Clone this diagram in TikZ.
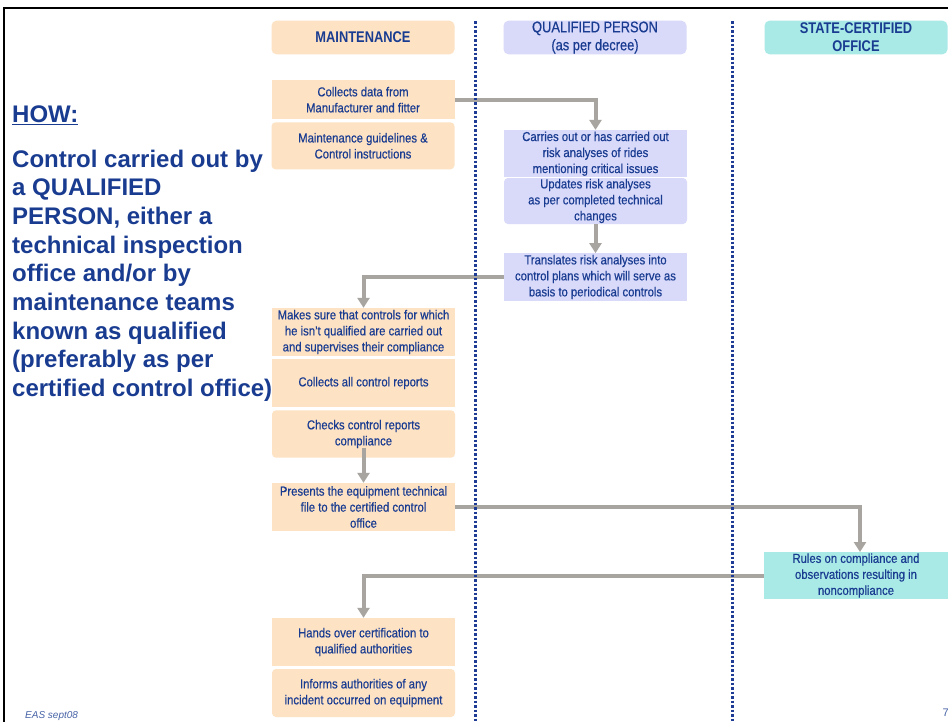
\documentclass[tikz,border=0pt]{standalone}
\usepackage{fontspec}
\setmainfont{Liberation Sans}
\newfontfamily\bxfont[FakeStretch=0.87,FakeBold=0.5]{Liberation Sans}
\newfontfamily\hdfont[FakeStretch=0.83]{Liberation Sans}
\newfontfamily\hqfont[FakeStretch=0.83,FakeBold=0.5]{Liberation Sans}
\usetikzlibrary{arrows.meta}
\definecolor{tblue}{RGB}{25,60,145}
\definecolor{peach}{RGB}{253,226,196}
\definecolor{lav}{RGB}{217,217,250}
\definecolor{cyanb}{RGB}{169,233,230}
\definecolor{arrgray}{RGB}{168,164,160}
\definecolor{laneblue}{RGB}{30,60,150}
\begin{document}
\begin{tikzpicture}[x=1pt,y=-1pt,
  box/.style={inner sep=0pt, minimum width=183pt, text=tblue, align=center, font=\bxfont\fontsize{13}{16}\selectfont},
  mt/.style={box, fill=peach},
  qp/.style={box, fill=lav},
  sc/.style={box, fill=cyanb},
  rnd/.style={rounded corners=4pt},
  hdr/.style={inner sep=0pt, minimum width=183pt, minimum height=33.6pt, rounded corners=5pt, text=tblue, align=center, font=\hdfont\fontsize{15.5}{18}\selectfont},
  arr/.style={draw=arrgray, line width=4pt, -{Triangle[width=12pt,length=10pt]}},
  lane/.style={draw=laneblue, line width=3pt, dash pattern=on 2.5pt off 2pt}]
\useasboundingbox (0,0) rectangle (948,721);
\fill[white] (0,0) rectangle (948,721);
% frame
\draw[line width=2.5pt] (4,730) -- (4,8) -- (960,8);
% headers
\node[hdr, fill=peach] (hM) at (363,37.5) {\bfseries MAINTENANCE};
\node[hdr, fill=lav, font=\hqfont\fontsize{15.5}{18}\selectfont] (hQ) at (595,37.5) {QUALIFIED PERSON\\(as per decree)};
\node[hdr, fill=cyanb] (hS) at (856,37.5) {\bfseries STATE-CERTIFIED\\\bfseries OFFICE};
% maintenance boxes
\node[mt, minimum height=39.3pt] (cd) at (363,99.7) {Collects data from\\Manufacturer and fitter};
\node[mt, rnd, minimum height=47pt] (mg) at (363,145.8) {Maintenance guidelines \&\\Control instructions};
% qualified person boxes
\node[qp, minimum height=47.3pt] (c1) at (595.5,153.7) {Carries out or has carried out\\risk analyses of rides\\mentioning critical issues};
\node[qp, rnd, minimum height=46pt] (up) at (595.5,201) {Updates risk analyses\\as per completed technical\\changes};
\node[qp, minimum height=47.4pt] (tr) at (595.5,277) {Translates risk analyses into\\control plans which will serve as\\basis to periodical controls};
% maintenance boxes lower
\node[mt, minimum height=48pt] (ms) at (363.5,332) {Makes sure that controls for which\\he isn’t qualified are carried out\\and supervises their compliance};
\node[mt, minimum height=47.4pt] (ca) at (363.5,383) {Collects all control reports};
\node[mt, rnd, minimum height=47.4pt] (ck) at (363.5,434) {Checks control reports\\compliance};
\node[mt, minimum height=48pt] (pr) at (363.5,507) {Presents the equipment technical\\file to the certified control\\office};
\node[sc, minimum width=184pt, minimum height=47pt] (ru) at (856,575.5) {Rules on compliance and\\observations resulting in\\noncompliance};
\node[mt, minimum height=48pt] (ho) at (363.5,642) {Hands over certification to\\qualified authorities};
\node[mt, rnd, minimum height=48pt] (inf) at (363.5,693) {Informs authorities of any\\incident occurred on equipment};
\coordinate (rutop) at (860,552);
% connectors
\draw[arr] (cd.east) -| (c1.north);
\draw[arr] (up.south) -- (tr.north);
\draw[arr] (tr.west) -| (ms.north);
\draw[arr] ([yshift=10pt]ck.south) -- (pr.north);
\draw[arr] (pr.east) -| (rutop);
\draw[arr] (ru.west) -| (ho.north);
% lanes
\draw[lane] (475,21) -- (475,721);
\draw[lane] (732,21) -- (732,721);
% left text
\node[anchor=base west, inner sep=0pt, text=tblue, font=\fontsize{24}{28.7}\selectfont\bfseries] (how) at (12,122.5) {\underline{HOW:}};
\node[anchor=north west, inner sep=0pt, text=tblue, align=left, font=\fontsize{24}{28.7}\selectfont\bfseries] (txt) at (12,149.5) {Control carried out by\\a QUALIFIED\\PERSON, either a\\technical inspection\\office and/or by\\maintenance teams\\known as qualified\\(preferably as per\\certified control office)};
% footer
\node[anchor=base west, inner sep=0pt, text=tblue!80, font=\fontsize{10}{12}\selectfont\itshape] (foot) at (25,718.5) {EAS sept08};
\node[anchor=base east, inner sep=0pt, text=tblue!80!white, font=\fontsize{11}{13}\selectfont] (pg) at (949,716) {7};
\end{tikzpicture}
\end{document}
